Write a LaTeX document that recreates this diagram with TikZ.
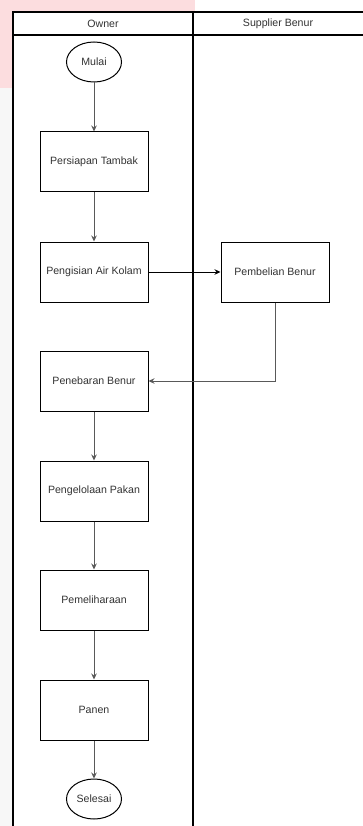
\documentclass[tikz,border=0pt]{standalone}
\usepackage{fontspec}
\setmainfont{Liberation Sans}
\usetikzlibrary{arrows.meta, shapes.geometric}
\definecolor{blush}{RGB}{252,221,223}
\definecolor{inkgray}{RGB}{51,51,51}
\begin{document}
\begin{tikzpicture}[x=1pt, y=-1pt, font=\fontsize{10.6}{12}\selectfont,
        flow/.style = {-{Stealth[length=6pt, width=5.5pt]}, line width=1pt}]
        \useasboundingbox (0, 0) rectangle (363, 826);
        \fill[blush] (0, 0) rectangle (195, 88);
        \fill[black!3] (0, 88) rectangle (13, 826);
        % swimlanes
        \fill[white] (13, 12) rectangle (363, 826);
        \draw[line width=1.2pt] (13, 826) -- (13, 12) -- (363, 12);
        \draw[line width=1.2pt] (13, 35) -- (363, 35);
        \draw[line width=1.2pt] (193, 12) -- (193, 826);
        \node[text=inkgray] (owner) at (103, 24) {Owner};
        \node[text=inkgray] (supplier) at (278, 24) {Supplier Benur};
        \begin{scope}[every node/.style = {draw, fill=white, text=inkgray, line width=1pt,
                minimum width = 108pt, minimum height = 60pt, inner sep = 0pt}]
            \node (persiapan) at (94, 162) {Persiapan Tambak};
            \node (pengisian) at (94, 272) {Pengisian Air Kolam};
            \node (pembelian) at (275, 272) {Pembelian Benur};
            \node (penebaran) at (94, 381) {Penebaran Benur};
            \node (pakan) at (94, 491) {Pengelolaan Pakan};
            \node (pelihara) at (94, 600) {Pemeliharaan};
            \node (panen) at (94, 710) {Panen};
        \end{scope}
        \begin{scope}[every node/.style = {draw, ellipse, fill=white, text=inkgray, line width=1pt,
                minimum width = 55pt, minimum height = 40pt, inner sep = 0pt}]
            \node (mulai) at (94, 62) {Mulai};
            \node (selesai) at (94, 799) {Selesai};
        \end{scope}
        \begin{scope}[draw=black!65]
        \draw[flow] (mulai) -- (persiapan);
        \draw[flow] (persiapan) -- (pengisian);
        \draw[flow, black] (pengisian) -- (pembelian);
        \draw[flow] (pembelian) |- (penebaran);
        \draw[flow] (penebaran) -- (pakan);
        \draw[flow] (pakan) -- (pelihara);
        \draw[flow] (pelihara) -- (panen);
        \draw[flow] (panen) -- (selesai);
        \end{scope}
    \end{tikzpicture}
\end{document}
